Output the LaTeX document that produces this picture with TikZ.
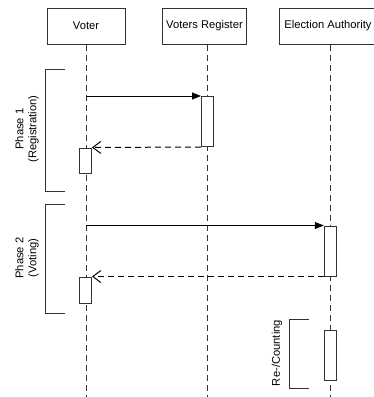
\documentclass[tikz,border=0pt]{standalone}
\usepackage{fontspec}
\setmainfont{Liberation Sans}
\usepackage{tikz}
\usetikzlibrary{arrows.meta,backgrounds}
\definecolor{ink}{HTML}{333333}

\begin{document}
\begin{tikzpicture}[x=1pt,y=-1pt,font=\fontsize{11.2}{13}\selectfont,actor/.style={draw=ink,line width=1pt,minimum height=36pt,inner sep=0pt},bar/.style={draw=ink,line width=1pt,fill=white,minimum width=12pt,inner sep=0pt},life/.style={draw=ink,line width=1pt,dash pattern=on 6pt off 4pt},call/.style={draw=black,line width=1pt,-{Triangle[length=9pt,width=7pt]}},reply/.style={draw=black,line width=1pt,dash pattern=on 6pt off 4pt,-{Straight Barb[length=8pt,width=12pt]}},phase/.style={draw=ink,line width=1pt}]
\useasboundingbox (0,0) rectangle (373,397);
\coordinate (bottom) at (0,397);
\node[actor,minimum width=78pt] (voter) at (86,26) {Voter};
\node[actor,minimum width=84pt] (register) at (204.5,26) {Voters Register};
\node[actor,minimum width=98pt] (authority) at (328,26) {Election Authority};
\node[bar,minimum height=50pt] (regbar) at (207.5,121.5) {};
\node[bar,minimum height=25pt] (voterbar1) at (85.5,160.5) {};
\node[bar,minimum height=50pt] (authbar1) at (330.3,251) {};
\node[bar,minimum height=26pt] (voterbar2) at (85.5,290) {};
\node[bar,minimum height=50pt] (authbar2) at (330.3,355) {};
\begin{scope}[on background layer]
\draw[life] (voter.south) -- (voter.south |- bottom);
\draw[life] (register.south -| regbar) -- (regbar |- bottom);
\draw[life] (authority.south -| authbar1) -- (authbar1 |- bottom);
\end{scope}
\draw[call] (voter.south |- regbar.north) -- (regbar.north west);
\draw[reply] (regbar.south west) -- (voterbar1.north east);
\draw[call] (voter.south |- authbar1.north) -- (authbar1.north west);
\draw[reply] (authbar1.south west) -- (voterbar2.north east);
\draw[phase] (65,69) -| (45,191) -- (65,191);
\node[rotate=90,align=center] (phaseone) at (27,129) {Phase 1\\(Registration)};
\draw[phase] (65,204) -| (45,313) -- (65,313);
\node[rotate=90,align=center] (phasetwo) at (27,258) {Phase 2\\(Voting)};
\draw[phase] (309,319) -| (289,388) -- (309,388);
\node[rotate=90] (recount) at (277,353) {Re-/Counting};
\end{tikzpicture}
\end{document}
